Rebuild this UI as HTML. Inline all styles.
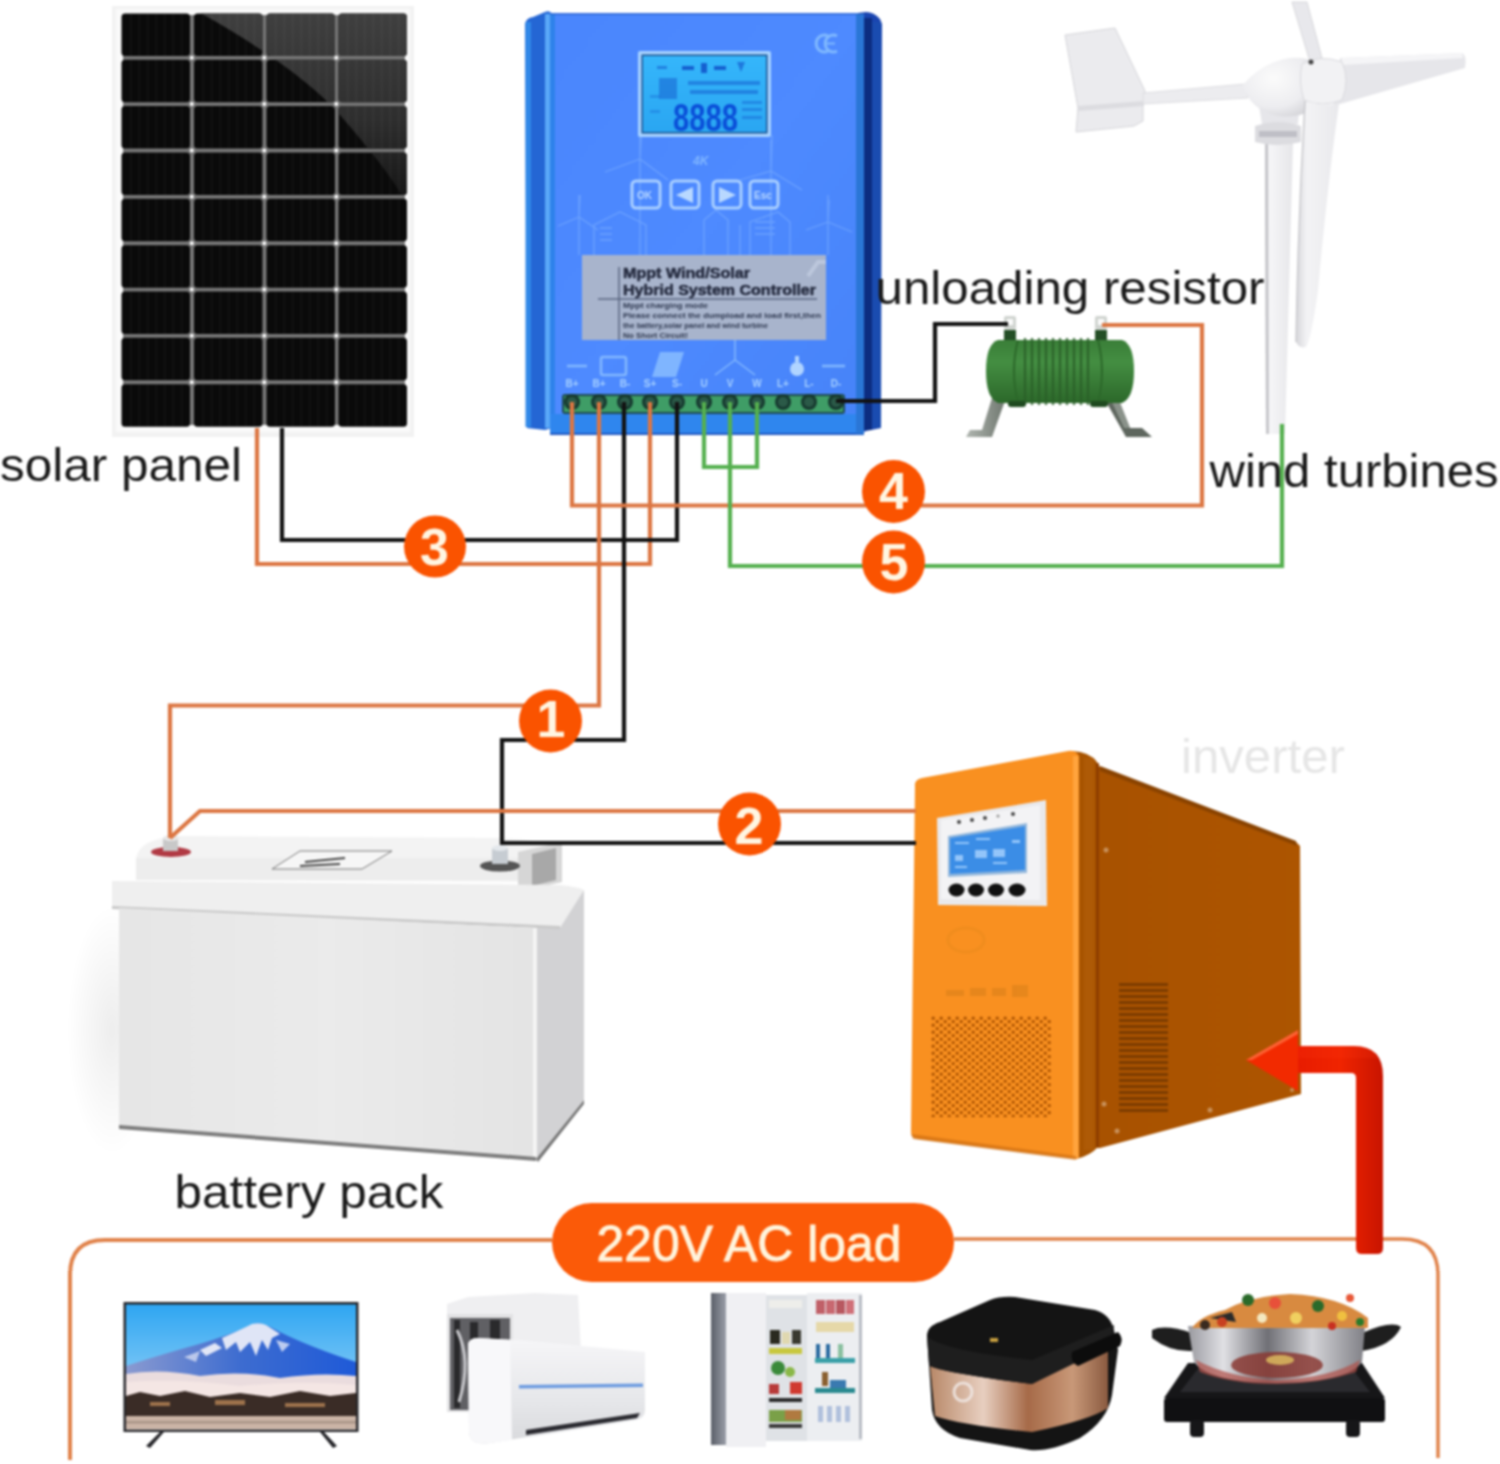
<!DOCTYPE html>
<html><head><meta charset="utf-8">
<style>
html,body{margin:0;padding:0;background:#fff;width:1500px;height:1464px;overflow:hidden}
svg{display:block;font-family:"Liberation Sans",sans-serif}
#wrap{filter:blur(1px);width:1500px;height:1464px}
</style></head>
<body><div id="wrap">
<svg width="1500" height="1464" viewBox="0 0 1500 1464">
<rect width="1500" height="1464" fill="#fff"/>
<!-- solar -->
<g id="solar">
<defs><linearGradient id="gRefl" x1="0" y1="0" x2="0" y2="1"><stop offset="0" stop-color="#404040"/><stop offset="0.55" stop-color="#2e2e2e"/><stop offset="1" stop-color="#121212"/></linearGradient></defs>
<rect x="112" y="6" width="302" height="431" fill="#f2f2f2"/>
<rect x="116" y="9" width="294" height="423" fill="#fafafa"/>
<rect x="123" y="15" width="282" height="410" fill="#777"/>
<clipPath id="cellclip">
<rect x="121.5" y="13.4" width="68.5" height="42.5" rx="3.5"/>
<rect x="194.0" y="13.4" width="68.5" height="42.5" rx="3.5"/>
<rect x="266.5" y="13.4" width="68.5" height="42.5" rx="3.5"/>
<rect x="338.5" y="13.4" width="68.5" height="42.5" rx="3.5"/>
<rect x="121.5" y="59.8" width="68.5" height="42.5" rx="3.5"/>
<rect x="194.0" y="59.8" width="68.5" height="42.5" rx="3.5"/>
<rect x="266.5" y="59.8" width="68.5" height="42.5" rx="3.5"/>
<rect x="338.5" y="59.8" width="68.5" height="42.5" rx="3.5"/>
<rect x="121.5" y="106.1" width="68.5" height="42.5" rx="3.5"/>
<rect x="194.0" y="106.1" width="68.5" height="42.5" rx="3.5"/>
<rect x="266.5" y="106.1" width="68.5" height="42.5" rx="3.5"/>
<rect x="338.5" y="106.1" width="68.5" height="42.5" rx="3.5"/>
<rect x="121.5" y="152.5" width="68.5" height="42.5" rx="3.5"/>
<rect x="194.0" y="152.5" width="68.5" height="42.5" rx="3.5"/>
<rect x="266.5" y="152.5" width="68.5" height="42.5" rx="3.5"/>
<rect x="338.5" y="152.5" width="68.5" height="42.5" rx="3.5"/>
<rect x="121.5" y="198.8" width="68.5" height="42.5" rx="3.5"/>
<rect x="194.0" y="198.8" width="68.5" height="42.5" rx="3.5"/>
<rect x="266.5" y="198.8" width="68.5" height="42.5" rx="3.5"/>
<rect x="338.5" y="198.8" width="68.5" height="42.5" rx="3.5"/>
<rect x="121.5" y="245.2" width="68.5" height="42.5" rx="3.5"/>
<rect x="194.0" y="245.2" width="68.5" height="42.5" rx="3.5"/>
<rect x="266.5" y="245.2" width="68.5" height="42.5" rx="3.5"/>
<rect x="338.5" y="245.2" width="68.5" height="42.5" rx="3.5"/>
<rect x="121.5" y="291.5" width="68.5" height="42.5" rx="3.5"/>
<rect x="194.0" y="291.5" width="68.5" height="42.5" rx="3.5"/>
<rect x="266.5" y="291.5" width="68.5" height="42.5" rx="3.5"/>
<rect x="338.5" y="291.5" width="68.5" height="42.5" rx="3.5"/>
<rect x="121.5" y="337.8" width="68.5" height="42.5" rx="3.5"/>
<rect x="194.0" y="337.8" width="68.5" height="42.5" rx="3.5"/>
<rect x="266.5" y="337.8" width="68.5" height="42.5" rx="3.5"/>
<rect x="338.5" y="337.8" width="68.5" height="42.5" rx="3.5"/>
<rect x="121.5" y="384.2" width="68.5" height="42.5" rx="3.5"/>
<rect x="194.0" y="384.2" width="68.5" height="42.5" rx="3.5"/>
<rect x="266.5" y="384.2" width="68.5" height="42.5" rx="3.5"/>
<rect x="338.5" y="384.2" width="68.5" height="42.5" rx="3.5"/>
</clipPath>
<g clip-path="url(#cellclip)">
<rect x="118" y="10" width="292" height="421" fill="#0a0a0a"/>
<path d="M195 10 C 250 40 310 80 340 115 C 370 150 395 180 410 210 L410 10 Z" fill="url(#gRefl)"/>
<rect x="130.0" y="10" width="1.5" height="421" fill="#ffffff" opacity="0.045"/>
<rect x="138.5" y="10" width="1.5" height="421" fill="#ffffff" opacity="0.045"/>
<rect x="147.0" y="10" width="1.5" height="421" fill="#ffffff" opacity="0.045"/>
<rect x="155.5" y="10" width="1.5" height="421" fill="#ffffff" opacity="0.045"/>
<rect x="164.0" y="10" width="1.5" height="421" fill="#ffffff" opacity="0.045"/>
<rect x="172.5" y="10" width="1.5" height="421" fill="#ffffff" opacity="0.045"/>
<rect x="181.0" y="10" width="1.5" height="421" fill="#ffffff" opacity="0.045"/>
<rect x="202.5" y="10" width="1.5" height="421" fill="#ffffff" opacity="0.045"/>
<rect x="211.0" y="10" width="1.5" height="421" fill="#ffffff" opacity="0.045"/>
<rect x="219.5" y="10" width="1.5" height="421" fill="#ffffff" opacity="0.045"/>
<rect x="228.0" y="10" width="1.5" height="421" fill="#ffffff" opacity="0.045"/>
<rect x="236.5" y="10" width="1.5" height="421" fill="#ffffff" opacity="0.045"/>
<rect x="245.0" y="10" width="1.5" height="421" fill="#ffffff" opacity="0.045"/>
<rect x="253.5" y="10" width="1.5" height="421" fill="#ffffff" opacity="0.045"/>
<rect x="275.0" y="10" width="1.5" height="421" fill="#ffffff" opacity="0.045"/>
<rect x="283.5" y="10" width="1.5" height="421" fill="#ffffff" opacity="0.045"/>
<rect x="292.0" y="10" width="1.5" height="421" fill="#ffffff" opacity="0.045"/>
<rect x="300.5" y="10" width="1.5" height="421" fill="#ffffff" opacity="0.045"/>
<rect x="309.0" y="10" width="1.5" height="421" fill="#ffffff" opacity="0.045"/>
<rect x="317.5" y="10" width="1.5" height="421" fill="#ffffff" opacity="0.045"/>
<rect x="326.0" y="10" width="1.5" height="421" fill="#ffffff" opacity="0.045"/>
<rect x="347.0" y="10" width="1.5" height="421" fill="#ffffff" opacity="0.045"/>
<rect x="355.5" y="10" width="1.5" height="421" fill="#ffffff" opacity="0.045"/>
<rect x="364.0" y="10" width="1.5" height="421" fill="#ffffff" opacity="0.045"/>
<rect x="372.5" y="10" width="1.5" height="421" fill="#ffffff" opacity="0.045"/>
<rect x="381.0" y="10" width="1.5" height="421" fill="#ffffff" opacity="0.045"/>
<rect x="389.5" y="10" width="1.5" height="421" fill="#ffffff" opacity="0.045"/>
<rect x="398.0" y="10" width="1.5" height="421" fill="#ffffff" opacity="0.045"/>
</g>
<circle cx="191.8" cy="57.8" r="2" fill="#fff"/>
<circle cx="264.3" cy="57.8" r="2" fill="#fff"/>
<circle cx="336.3" cy="57.8" r="2" fill="#fff"/>
<circle cx="191.8" cy="104.1" r="2" fill="#fff"/>
<circle cx="264.3" cy="104.1" r="2" fill="#fff"/>
<circle cx="336.3" cy="104.1" r="2" fill="#fff"/>
<circle cx="191.8" cy="150.5" r="2" fill="#fff"/>
<circle cx="264.3" cy="150.5" r="2" fill="#fff"/>
<circle cx="336.3" cy="150.5" r="2" fill="#fff"/>
<circle cx="191.8" cy="196.8" r="2" fill="#fff"/>
<circle cx="264.3" cy="196.8" r="2" fill="#fff"/>
<circle cx="336.3" cy="196.8" r="2" fill="#fff"/>
<circle cx="191.8" cy="243.2" r="2" fill="#fff"/>
<circle cx="264.3" cy="243.2" r="2" fill="#fff"/>
<circle cx="336.3" cy="243.2" r="2" fill="#fff"/>
<circle cx="191.8" cy="289.5" r="2" fill="#fff"/>
<circle cx="264.3" cy="289.5" r="2" fill="#fff"/>
<circle cx="336.3" cy="289.5" r="2" fill="#fff"/>
<circle cx="191.8" cy="335.8" r="2" fill="#fff"/>
<circle cx="264.3" cy="335.8" r="2" fill="#fff"/>
<circle cx="336.3" cy="335.8" r="2" fill="#fff"/>
<circle cx="191.8" cy="382.2" r="2" fill="#fff"/>
<circle cx="264.3" cy="382.2" r="2" fill="#fff"/>
<circle cx="336.3" cy="382.2" r="2" fill="#fff"/>
</g>
<!-- controller -->
<g id="controller">
<defs>
 <linearGradient id="gFace" x1="0" y1="0" x2="1" y2="1">
  <stop offset="0" stop-color="#4a86fd"/><stop offset="0.5" stop-color="#4e8aff"/><stop offset="1" stop-color="#4683f8"/>
 </linearGradient>
 <linearGradient id="gLcd" x1="0" y1="0" x2="0" y2="1">
  <stop offset="0" stop-color="#35b6fb"/><stop offset="1" stop-color="#2aa6f2"/>
 </linearGradient>
</defs>
<!-- left flange -->
<path d="M525 24 Q526 18 533 17 L545 12 Q550 10 552 14 L552 428 L545 430 L527 428 Z" fill="#2466d4"/>
<rect x="525.5" y="22" width="5.5" height="405" fill="#3088e8"/>
<rect x="545" y="14" width="5" height="414" fill="#5aa8f8"/>
<!-- main face -->
<rect x="550" y="13" width="314" height="422" fill="url(#gFace)"/>
<rect x="550" y="14" width="5" height="420" fill="#2e82ea"/>
<rect x="550" y="13" width="314" height="2" fill="#2d63c8" opacity="0.6"/>
<rect x="550" y="414" width="314" height="21" fill="#2f86ee"/>
<rect x="550" y="433" width="314" height="2" fill="#2058c0"/>
<!-- right flange -->
<path d="M858 13 L866 12 Q874 12 880 19 L882 24 L881 428 L866 431 L858 435 Z" fill="#1a45b0"/>
<rect x="864" y="18" width="8" height="412" fill="#0c2c80"/>
<rect x="872" y="22" width="9" height="406" fill="#1a4cb0"/>
<rect x="856" y="14" width="8" height="420" fill="#2a76d6"/>
<!-- CE -->
<g fill="none" stroke="#7fb8ff" stroke-width="3"><path d="M828 36 A8 8.5 0 1 0 828 51"/><path d="M837 36 A8 8.5 0 1 0 837 51"/><path d="M826 43.5 L835 43.5" stroke-width="2"/></g>
<!-- faint line art -->
<g stroke="#8fbfff" stroke-width="1.3" fill="none" opacity="0.45">
 <path d="M640 135 L640 255 M640 159 L605 172 M640 159 L668 180 M640 159 L642 120"/>
 <path d="M771 140 L771 255 M771 171 L740 180 M771 171 L802 190 M771 171 L772 135"/>
 <path d="M579 195 L579 255 M579 217 L558 226 M579 217 L598 230 M579 217 L580 195"/>
 <path d="M828 195 L828 255 M828 222 L806 230 M828 222 L852 232 M828 222 L829 200"/>
 <path d="M594 255 L594 225 L620 212 L646 225 L646 255"/>
 <path d="M704 255 L704 220 L716 210 L728 220 L728 255 M740 255 L740 225"/>
 <path d="M750 255 L750 222 L778 212 L790 222 L790 255"/>
 <path d="M600 228 L612 228 M600 234 L612 234 M600 240 L612 240 M755 222 L775 222 M755 228 L775 228 M755 234 L775 234"/>
</g>
<text x="693" y="165" font-size="12" font-style="italic" font-weight="bold" fill="#8cc0ff" opacity="0.8">4K</text>
<!-- LCD -->
<rect x="638" y="51" width="133" height="86" rx="2" fill="#a6d2ff"/>
<rect x="641.5" y="54.5" width="126" height="79" fill="#17508f"/>
<rect x="643" y="56" width="123" height="76" fill="url(#gLcd)"/>
<g fill="#1560d0">
 <rect x="657" y="66" width="10" height="3" opacity="0.6"/>
 <rect x="682" y="66" width="12" height="4"/>
 <rect x="701" y="63" width="6" height="10"/>
 <rect x="714" y="66" width="12" height="4"/>
 <path d="M737 62 L745 62 L741 72 Z" opacity="0.7"/>
 <rect x="659" y="78" width="18" height="21" opacity="0.55"/>
 <rect x="688" y="81" width="72" height="4" opacity="0.55"/>
 <rect x="690" y="90" width="68" height="4" opacity="0.55"/>
 <rect x="742" y="101" width="20" height="3" opacity="0.45"/>
 <rect x="742" y="108" width="20" height="3" opacity="0.45"/>
 <rect x="742" y="116" width="20" height="3" opacity="0.45"/>
 <rect x="650" y="95" width="10" height="3" opacity="0.35"/>
 <rect x="650" y="110" width="10" height="3" opacity="0.35"/>
</g>
<text x="673" y="131" font-size="38" font-family="Liberation Sans Narrow, Liberation Sans" font-weight="bold" fill="#0a4fd8" textLength="65" lengthAdjust="spacingAndGlyphs">8888</text>
<!-- buttons -->
<g fill="none" stroke="#a9cfff" stroke-width="3">
 <rect x="632" y="181" width="28" height="27" rx="4"/>
 <rect x="671" y="181" width="28" height="27" rx="4"/>
 <rect x="713" y="181" width="28" height="27" rx="4"/>
 <rect x="750" y="181" width="28" height="27" rx="4"/>
</g>
<g fill="#b8d8ff">
 <text x="637" y="199" font-size="10" font-weight="bold">OK</text>
 <path d="M676 195 L693 187 L693 203 Z"/>
 <path d="M736 195 L719 187 L719 203 Z"/>
 <text x="754" y="199" font-size="10" font-weight="bold">Esc</text>
</g>
<!-- grey label -->
<rect x="582" y="255" width="244" height="85" fill="#a8b4cc"/>
<path d="M808 276 L818 262 L826 262" stroke="#c4cee2" stroke-width="4" fill="none" opacity="0.7"/>
<line x1="619" y1="267" x2="619" y2="340" stroke="#5a6680" stroke-width="1.5"/>
<line x1="598" y1="299" x2="817" y2="299" stroke="#5a6680" stroke-width="1.5"/>
<g fill="#262c40" font-weight="bold" stroke="#262c40" stroke-width="0.5">
 <text x="623" y="278" font-size="14" textLength="127" lengthAdjust="spacingAndGlyphs">Mppt Wind/Solar</text>
 <text x="623" y="295" font-size="15" textLength="193" lengthAdjust="spacingAndGlyphs">Hybrid System Controller</text>
</g>
<g fill="#2e3850" font-size="8" font-weight="bold">
 <text x="623" y="308" textLength="85" lengthAdjust="spacingAndGlyphs">Mppt charging mode</text>
 <text x="623" y="318" textLength="198" lengthAdjust="spacingAndGlyphs">Please connect the dumpload and load first,then</text>
 <text x="623" y="328" textLength="145" lengthAdjust="spacingAndGlyphs">the battery,solar panel and wind turbine</text>
 <text x="623" y="338" textLength="65" lengthAdjust="spacingAndGlyphs">No Short Circuit!</text>
</g>
<!-- icons row -->
<g fill="none" stroke="#8cc0ff" stroke-width="2.5" opacity="0.85">
 <line x1="567" y1="366" x2="587" y2="366"/>
 <rect x="601" y="357" width="25" height="18" rx="2"/>
 <line x1="822" y1="366" x2="845" y2="366"/>
 <path d="M735 360 L735 340 M735 360 L715 375 M735 360 L755 375" stroke-width="1.5"/>
</g>
<path d="M660 352 L684 352 L676 377 L652 377 Z" fill="#8cc0ff" opacity="0.8"/>
<circle cx="797" cy="369" r="7" fill="#b0d4ff"/>
<rect x="795" y="356" width="4" height="6" fill="#b0d4ff"/>
<g fill="#a6d0ff" font-size="10" font-weight="bold">

<text x="572" y="387" text-anchor="middle">B+</text>
<text x="599" y="387" text-anchor="middle">B+</text>
<text x="625" y="387" text-anchor="middle">B-</text>
<text x="650" y="387" text-anchor="middle">S+</text>
<text x="677" y="387" text-anchor="middle">S-</text>
<text x="704" y="387" text-anchor="middle">U</text>
<text x="730" y="387" text-anchor="middle">V</text>
<text x="757" y="387" text-anchor="middle">W</text>
<text x="783" y="387" text-anchor="middle">L+</text>
<text x="809" y="387" text-anchor="middle">L-</text>
<text x="836" y="387" text-anchor="middle">D-</text>
</g>
<rect x="562" y="394" width="283" height="20" rx="3" fill="#1f4a55"/>
<rect x="564" y="396" width="279" height="16" fill="#3f9d66"/>
<circle cx="572" cy="402" r="8" fill="#173a30"/>
<circle cx="572" cy="402" r="5" fill="#2b5a48"/>
<circle cx="599" cy="402" r="8" fill="#173a30"/>
<circle cx="599" cy="402" r="5" fill="#2b5a48"/>
<circle cx="625" cy="402" r="8" fill="#173a30"/>
<circle cx="625" cy="402" r="5" fill="#2b5a48"/>
<circle cx="650" cy="402" r="8" fill="#173a30"/>
<circle cx="650" cy="402" r="5" fill="#2b5a48"/>
<circle cx="677" cy="402" r="8" fill="#173a30"/>
<circle cx="677" cy="402" r="5" fill="#2b5a48"/>
<circle cx="704" cy="402" r="8" fill="#173a30"/>
<circle cx="704" cy="402" r="5" fill="#2b5a48"/>
<circle cx="730" cy="402" r="8" fill="#173a30"/>
<circle cx="730" cy="402" r="5" fill="#2b5a48"/>
<circle cx="757" cy="402" r="8" fill="#173a30"/>
<circle cx="757" cy="402" r="5" fill="#2b5a48"/>
<circle cx="783" cy="402" r="8" fill="#173a30"/>
<circle cx="783" cy="402" r="5" fill="#2b5a48"/>
<circle cx="809" cy="402" r="8" fill="#173a30"/>
<circle cx="809" cy="402" r="5" fill="#2b5a48"/>
<circle cx="836" cy="402" r="8" fill="#173a30"/>
<circle cx="836" cy="402" r="5" fill="#2b5a48"/>
</g>
<!-- turbine -->
<g id="turbine">
 <defs>
  <linearGradient id="gTower" x1="0" x2="1" y1="0" y2="0"><stop offset="0" stop-color="#d0d0d4"/><stop offset="0.15" stop-color="#f6f6f8"/><stop offset="1" stop-color="#e6e6e9"/></linearGradient>
  <linearGradient id="gBlade" x1="0" y1="0" x2="1" y2="0">
   <stop offset="0" stop-color="#d6d6da"/><stop offset="0.25" stop-color="#f3f3f5"/><stop offset="1" stop-color="#e9e9ec"/>
  </linearGradient>
  <radialGradient id="gNac" cx="0.45" cy="0.35" r="0.7">
   <stop offset="0" stop-color="#fbfbfb"/><stop offset="0.7" stop-color="#ededf0"/><stop offset="1" stop-color="#d8d8dc"/>
  </radialGradient>
 </defs>
 <!-- tower -->
 <path d="M1265 143 L1293 143 L1285 434 L1266 434 Z" fill="url(#gTower)"/>
 <path d="M1265 143 L1268 143 L1269 434 L1266 434 Z" fill="#c6c6ca"/>
 <!-- tail fin -->
 <path d="M1065 35 L1115 28 L1145 91 L1143 105 L1143 121 L1134 126 L1076 132 L1078 108 Z" fill="#ebebee" stroke="#d6d6da" stroke-width="1"/>
 <path d="M1078 106 L1144 101 L1144 106 L1078 111 Z" fill="#dcdce0"/>
 <!-- boom -->
 <path d="M1143 93 L1245 84 L1248 98 L1143 104 Z" fill="#ececef" stroke="#d8d8dc" stroke-width="0.8"/>
 <!-- yaw neck -->
 <path d="M1258 100 L1300 100 L1298 124 L1262 124 Z" fill="#e6e6ea"/>
 <!-- yaw ring -->
 <path d="M1255 126 Q1278 118 1301 126 L1301 142 Q1278 148 1255 142 Z" fill="#dcdce0"/>
 <path d="M1259 131 L1297 131 L1297 137 L1259 137 Z" fill="#a8a8b0" opacity="0.55"/>
 <!-- nacelle -->
 <path d="M1242 86 Q1262 62 1290 58 Q1306 57 1312 62 L1312 110 Q1300 118 1278 116 Q1260 112 1250 100 Z" fill="url(#gNac)"/>
 <!-- top blade -->
 <path d="M1292 2 L1307 2 L1322 58 L1310 62 Z" fill="#e8e8ec" stroke="#d2d2d6" stroke-width="0.8"/>
 <!-- right blade -->
 <path d="M1340 58 L1462 53 Q1467 55 1465 68 L1333 106 Z" fill="#e6e6ea"/>
 <path d="M1342 58 L1462 53 L1463 58 L1342 65 Z" fill="#f5f5f7"/>
 <!-- hub -->
 <path d="M1302 64 Q1320 54 1342 62 Q1350 80 1342 100 Q1322 108 1304 100 Q1298 82 1302 64 Z" fill="#f2f2f4" stroke="#dadade" stroke-width="1"/>
 <circle cx="1311" cy="62" r="2.5" fill="#444"/>
 <!-- down blade -->
 <path d="M1305 101 Q1322 106 1339 104 Q1328 180 1318 290 Q1311 340 1306 347 Q1299 349 1296 342 Q1298 250 1302 160 Z" fill="url(#gBlade)"/>
 <path d="M1305 101 Q1298 220 1296 342" fill="none" stroke="#c8c8cc" stroke-width="1.4"/>
</g>

<!-- resistor -->
<g id="resistor">
 <defs>
  <linearGradient id="gRes" x1="0" y1="0" x2="0" y2="1">
   <stop offset="0" stop-color="#3a7e38"/><stop offset="0.35" stop-color="#448e42"/><stop offset="1" stop-color="#2c682a"/>
  </linearGradient>
  <linearGradient id="gFoot" x1="0" y1="0" x2="1" y2="0">
   <stop offset="0" stop-color="#b0b6b0"/><stop offset="1" stop-color="#6e766e"/>
  </linearGradient>
 </defs>
 <!-- feet -->
 <path d="M992 398 L1006 398 L992 437 L966 437 L970 430 L982 430 Z" fill="url(#gFoot)"/>
 <path d="M1104 398 L1118 398 L1130 428 L1142 428 L1152 437 L1126 437 Z" fill="#5e665e"/>
 <path d="M1110 398 L1118 398 L1130 428 L1124 428 Z" fill="#8a928a"/>
 <!-- terminals -->
 <rect x="1004" y="330" width="12" height="16" fill="#244e26"/>
 <rect x="1004" y="316" width="12" height="14" rx="2" fill="#d0d4d0"/>
 <rect x="1007" y="319" width="6" height="6" fill="#fafafa"/>
 <rect x="1095" y="330" width="12" height="16" fill="#244e26"/>
 <rect x="1095" y="316" width="12" height="14" rx="2" fill="#d0d4d0"/>
 <rect x="1098" y="319" width="6" height="6" fill="#fafafa"/>
 <!-- body -->
 <path d="M998 340 L1122 340 Q1134 344 1134 371 Q1134 398 1122 403 L998 403 Q986 398 986 371 Q986 344 998 340 Z" fill="url(#gRes)"/>
 <path d="M1018 340 Q1010 371 1018 403" fill="none" stroke="#2c682a" stroke-width="2"/>
 <path d="M1098 340 Q1106 371 1098 403" fill="none" stroke="#2c682a" stroke-width="2"/>
 <g stroke="#2a5f28" stroke-width="2.2" opacity="0.85">
  <line x1="1025" y1="338" x2="1025" y2="405"/><line x1="1032" y1="338" x2="1032" y2="405"/>
  <line x1="1039" y1="338" x2="1039" y2="405"/><line x1="1046" y1="338" x2="1046" y2="405"/>
  <line x1="1053" y1="338" x2="1053" y2="405"/><line x1="1060" y1="338" x2="1060" y2="405"/>
  <line x1="1067" y1="338" x2="1067" y2="405"/><line x1="1074" y1="338" x2="1074" y2="405"/>
  <line x1="1081" y1="338" x2="1081" y2="405"/><line x1="1088" y1="338" x2="1088" y2="405"/>
 </g>
 <rect x="1008" y="401" width="18" height="6" rx="3" fill="#1f4a20"/>
 <rect x="1090" y="401" width="18" height="6" rx="3" fill="#1f4a20"/>
</g>

<!-- battery -->
<g id="battery">
 <defs>
  <radialGradient id="gBatShadow" cx="0.5" cy="0.5" r="0.5">
   <stop offset="0" stop-color="#000" stop-opacity="0.07"/><stop offset="1" stop-color="#000" stop-opacity="0"/>
  </radialGradient>
  <linearGradient id="gBatFront" x1="0" y1="0" x2="1" y2="0">
   <stop offset="0" stop-color="#e6e6e6"/><stop offset="0.5" stop-color="#ebebeb"/><stop offset="1" stop-color="#e4e4e4"/>
  </linearGradient>
 </defs>
 <ellipse cx="112" cy="1030" rx="45" ry="125" fill="url(#gBatShadow)"/>
 <!-- top plate -->
 <path d="M136 858 Q 140 838 180 836 L 500 838 Q 560 842 562 850 L 562 882 L 136 880 Z" fill="#f3f3f3"/>
 <rect x="136" y="858" width="384" height="22" fill="#ededed"/>
 <!-- handle notch -->
 <path d="M518 852 L 562 842 L 562 882 L 518 892 Z" fill="#d6d6d6"/>
 <path d="M532 854 L 556 848 L 556 880 L 532 886 Z" fill="#a8a8a8"/>
 <!-- side face -->
 <path d="M536 928 L 584 890 L 584 1100 L 536 1159 Z" fill="#d2d2d4"/>
 <path d="M536 1159 L 584 1100 L 584 1104 L 538 1162 Z" fill="#777"/>
 <!-- lid band -->
 <path d="M112 881 L 560 885 Q 578 887 584 890 L 560 928 L 112 907 Z" fill="#efefef"/>
 <path d="M112 906 L 560 926 L 560 929 L 112 909 Z" fill="#c9c9c9"/>
 <!-- front face -->
 <path d="M119 908 L 536 928 L 536 1159 L 119 1127 Z" fill="url(#gBatFront)"/>
<rect x="533" y="928" width="4" height="230" fill="#f4f4f4"/>
 <path d="M119 1125 L 536 1157 L 536 1161 L 119 1129 Z" fill="#7d7d7d"/>
 <!-- label on top -->
 <path d="M272 869 L 300 851 L 392 851 L 362 869 Z" fill="#f6f6f6" stroke="#777" stroke-width="1"/>
 <path d="M305 862 L 345 858 M300 866 L 340 864" stroke="#444" stroke-width="2"/>
 <!-- terminals -->
 <ellipse cx="171" cy="852" rx="20" ry="5" fill="#b13a44"/>
 <rect x="163" y="838" width="15" height="13" fill="#c8c8c8"/>
 <ellipse cx="171" cy="838" rx="8" ry="3" fill="#e8e8e8"/>
 <ellipse cx="500" cy="866" rx="20" ry="5.5" fill="#555"/>
 <rect x="492" y="848" width="16" height="16" fill="#c6ccd2"/>
 <ellipse cx="500" cy="848" rx="8" ry="3" fill="#e4e8ec"/>
</g>

<!-- inverter -->
<g id="inverter">
 <defs>
  <pattern id="pDots" x="931" y="1016" width="8" height="7" patternUnits="userSpaceOnUse">
   <circle cx="2.2" cy="2.2" r="1.6" fill="#a85000"/>
   <circle cx="6.2" cy="5.7" r="1.6" fill="#a85000"/>
  </pattern>
  <pattern id="pVent" x="1119" y="983" width="49" height="6" patternUnits="userSpaceOnUse">
   <rect x="0" y="0" width="49" height="3" fill="#763800" opacity="0.85"/>
  </pattern>
  <linearGradient id="gSide" x1="0" y1="0" x2="1" y2="0">
   <stop offset="0" stop-color="#a85200"/><stop offset="1" stop-color="#ad5500"/>
  </linearGradient>
 </defs>
 <!-- side face -->
 <path d="M1097 763 L1100 767 L1296 842 L1300 846 L1301 1094 L1100 1148 L1097 1148 Z" fill="url(#gSide)"/>
 <path d="M1100 766 L1296 841 L1297 846 L1100 771 Z" fill="#8a4300"/>
 <!-- bevel strip -->
 <path d="M1072 751 Q1090 752 1097 762 L1099 1146 Q1090 1156 1076 1159 Z" fill="#a85400"/>
 <rect x="1084" y="758" width="10" height="392" fill="#b05c08" opacity="0.7"/>
 <rect x="1096" y="763" width="3" height="384" fill="#8e3e00"/>
 <!-- front face -->
 <path d="M915 786 Q914 780 922 778 L1068 751 Q1076 750 1079 756 L1079 1158 L1076 1159 L918 1139 Q911 1138 911 1132 Z" fill="#f99020"/>
 <rect x="1073" y="756" width="5.5" height="402" fill="#ffa640" opacity="0.9"/>
 <path d="M911 1134 L1076 1156 L1076 1160 L913 1139 Z" fill="#c86a10" opacity="0.6"/>
 <!-- silver panel -->
 <path d="M937 818 L1046 800 L1047 906 L938 905 Z" fill="#e9e9ec"/>
 <path d="M941 820 L1040 805 L1040 900 L941 899 Z" fill="#f3f3f5"/>
 <g fill="#444">
  <circle cx="959" cy="822" r="2"/><circle cx="972" cy="820" r="2"/><circle cx="985" cy="818" r="2"/><circle cx="998" cy="816" r="1.6" fill="#999"/><circle cx="1013" cy="814" r="2"/>
 </g>
 <path d="M948 836 L1027 823 L1027 873 L948 877 Z" fill="#94b8dc"/>
 <path d="M950 838 L1025 826 L1025 870 L950 874 Z" fill="#3b8de6"/>
 <g fill="#a9d4ff" opacity="0.8">
  <rect x="955" y="842" width="14" height="2"/><rect x="976" y="838" width="14" height="2"/>
  <rect x="975" y="850" width="12" height="8"/><rect x="993" y="849" width="12" height="8"/>
  <rect x="955" y="855" width="8" height="6"/><rect x="1012" y="840" width="8" height="3"/>
  <rect x="955" y="866" width="12" height="2"/><rect x="993" y="862" width="14" height="2"/>
 </g>
 <g fill="#111">
  <ellipse cx="956.5" cy="890" rx="8" ry="6.5"/><ellipse cx="976" cy="890" rx="8" ry="6.5"/>
  <ellipse cx="996" cy="890" rx="8" ry="6.5"/><ellipse cx="1017" cy="890" rx="8.5" ry="6.5"/>
 </g>
 <!-- faint logo -->
 <ellipse cx="966" cy="940" rx="18" ry="12" fill="none" stroke="#e88a1c" stroke-width="3" opacity="0.5"/>
 <g fill="#e4861c" opacity="0.9">
  <rect x="946" y="990" width="18" height="6"/><rect x="970" y="988" width="16" height="8"/><rect x="992" y="988" width="14" height="8"/><rect x="1012" y="985" width="16" height="12"/>
 </g>
 <!-- grille -->
 <rect x="931" y="1016" width="120" height="101" fill="url(#pDots)"/>
 <!-- side vent -->
 <rect x="1119" y="983" width="49" height="129" fill="url(#pVent)"/>
 <!-- screws -->
 <g fill="#d0a070" opacity="0.8">
  <circle cx="1106" cy="850" r="2.5"/><circle cx="1104" cy="1104" r="2.5"/><circle cx="1117" cy="1131" r="2.5"/><circle cx="1210" cy="1110" r="2.5"/><circle cx="1292" cy="1090" r="2"/>
 </g>
</g>
<!-- labels -->
<g fill="#1a1a1a" font-size="46">
  <text x="0" y="481" textLength="242" lengthAdjust="spacingAndGlyphs">solar panel</text>
  <text x="875.5" y="304" textLength="389" lengthAdjust="spacingAndGlyphs">unloading resistor</text>
  <text x="1209.5" y="487" textLength="289" lengthAdjust="spacingAndGlyphs">wind turbines</text>
  <text x="174.5" y="1208" textLength="269" lengthAdjust="spacingAndGlyphs">battery pack</text>
  <text x="1181" y="773" fill="#e6e6e6" font-size="48" textLength="164" lengthAdjust="spacingAndGlyphs">inverter</text>
</g>

<!-- wires -->
<g id="wires" fill="none" stroke-width="4.2" stroke-linejoin="miter">
 <!-- solar to controller (3) -->
 <polyline points="257,428 257,564 650,564 650,402" stroke="#dc7642"/>
 <polyline points="282,428 282,540 677,540 677,402" stroke="#121212"/>
 <!-- battery (1) -->
 <polyline points="599,402 599,705.5 170,705.5 170,838" stroke="#dc7642"/>
 <polyline points="624,402 624,740 502,740 502,845" stroke="#121212"/>
 <!-- inverter (2) -->
 <polyline points="170,838 200,811 916,811" stroke="#dc7642"/>
 <polyline points="502,843 916,843" stroke="#121212"/>
 <!-- resistor (4) -->
 <polyline points="572,402 572,505.5 1202,505.5 1202,325 1102,325" stroke="#dc7642"/>
 <polyline points="836,401 935,401 935,324 1008,324" stroke="#121212"/>
 <!-- turbine (5) -->
 <polyline points="704,402 704,467 757,467 757,402" stroke="#55b04f"/>
 <polyline points="730,402 730,566 1282,566 1282,424" stroke="#55b04f"/>
</g>

<!-- load -->
<g id="load">
 <path d="M70 1460 L70 1275 Q70 1240 105 1240 L552 1240" fill="none" stroke="#e0824a" stroke-width="4"/>
 <path d="M954 1239 L1402 1239 Q1438 1239 1438 1275 L1438 1458" fill="none" stroke="#e0824a" stroke-width="3.5"/>
 <rect x="552" y="1203" width="402" height="79" rx="39.5" fill="#fb5a08"/>
 <text x="596.5" y="1261" font-size="50" fill="#fff4dc" stroke="#fff4dc" stroke-width="0.9" textLength="305" lengthAdjust="spacingAndGlyphs">220V AC load</text>
</g>

<!-- arrow -->
<g id="arrow">
 <defs>
  <linearGradient id="gArrowV" x1="0" y1="0" x2="1" y2="0">
   <stop offset="0" stop-color="#e81c00"/><stop offset="0.5" stop-color="#f02400"/><stop offset="1" stop-color="#c81400"/>
  </linearGradient>
 </defs>
 <path d="M1298 1046 L1354 1046 Q1383 1046 1383 1076 L1383 1248 Q1383 1254 1377 1254 L1362 1254 Q1356 1254 1356 1248 L1356 1078 Q1356 1073 1351 1073 L1298 1073 Z" fill="url(#gArrowV)"/>
 <path d="M1298 1046 L1354 1046 Q1372 1046 1378 1058 L1298 1058 Z" fill="#ff3a10" opacity="0.18"/>
 <path d="M1246 1060 L1298 1030 L1298 1091 Z" fill="#f22a00"/>
 <path d="M1246 1060 L1298 1030 L1298 1034 L1252 1060 Z" fill="#ff7040" opacity="0.8"/>
</g>

<!-- appliances -->
<g id="appliances">
 <defs>
  <linearGradient id="gSky" x1="0" y1="0" x2="0" y2="1">
   <stop offset="0" stop-color="#2fa6f2"/><stop offset="0.6" stop-color="#7ec8f6"/><stop offset="1" stop-color="#c8e6fa"/>
  </linearGradient>
  <linearGradient id="gMtn" x1="0" y1="0" x2="1" y2="0">
   <stop offset="0" stop-color="#8a9ad0"/><stop offset="0.5" stop-color="#3d6cd0"/><stop offset="1" stop-color="#1f5ad8"/>
  </linearGradient>
  <linearGradient id="gAC" x1="0" y1="0" x2="0" y2="1">
   <stop offset="0" stop-color="#f6f6f8"/><stop offset="0.6" stop-color="#e6e7ea"/><stop offset="1" stop-color="#d8d9dc"/>
  </linearGradient>
  <linearGradient id="gCopper" x1="0" y1="0" x2="1" y2="0">
   <stop offset="0" stop-color="#b88868"/><stop offset="0.3" stop-color="#e8cfc0"/><stop offset="0.55" stop-color="#a66a48"/><stop offset="0.8" stop-color="#c89878"/><stop offset="1" stop-color="#8a5a40"/>
  </linearGradient>
  <linearGradient id="gPot" x1="0" y1="0" x2="1" y2="0">
   <stop offset="0" stop-color="#8a8a90"/><stop offset="0.25" stop-color="#d8d8dc"/><stop offset="0.5" stop-color="#5a5a60"/><stop offset="0.75" stop-color="#d0d0d4"/><stop offset="1" stop-color="#7a7a80"/>
  </linearGradient>
 </defs>
 <!-- TV -->
 <rect x="123.5" y="1302" width="235" height="130" fill="#26262a"/>
 <rect x="126" y="1304.5" width="230" height="125" fill="url(#gSky)"/>
 <path d="M126 1366 Q150 1358 185 1348 Q215 1340 240 1330 Q252 1324 258 1323 Q266 1324 280 1332 Q310 1347 356 1362 L356 1392 L126 1392 Z" fill="url(#gMtn)"/>
 <g fill="#eef0fa" opacity="0.92">
  <path d="M222 1338 Q240 1330 252 1324 Q260 1322 266 1325 Q274 1330 280 1334 L272 1338 L268 1350 L262 1340 L256 1356 L250 1342 L240 1352 L236 1342 L226 1350 Z"/>
  <path d="M200 1350 L215 1343 L222 1348 L206 1356 Z"/>
  <path d="M184 1357 L200 1351 L196 1362 Z" opacity="0.7"/>
  <path d="M276 1340 L290 1344 L282 1352 Z" opacity="0.8"/>
 </g>
 <path d="M126 1374 Q160 1368 200 1376 Q240 1370 280 1378 Q320 1372 356 1376 L356 1397 L126 1397 Z" fill="#eadcde"/>
 <path d="M126 1382 Q180 1378 240 1386 Q300 1380 356 1385 L356 1397 L126 1397 Z" fill="#f4e6e4"/>
 <path d="M126 1396 L140 1392 L160 1396 L185 1391 L210 1397 L240 1393 L270 1397 L300 1391 L330 1396 L356 1393 L356 1416 L126 1416 Z" fill="#3a2c26"/>
 <g fill="#c8905c" opacity="0.7"><rect x="150" y="1402" width="20" height="4"/><rect x="215" y="1400" width="30" height="5"/><rect x="285" y="1403" width="40" height="4"/></g>
 <rect x="126" y="1416" width="230" height="13.5" fill="#cbb4a6"/>
 <rect x="126" y="1421" width="230" height="2.5" fill="#8a766a" opacity="0.5"/>
 <path d="M160 1432 L164 1432 L150 1448 L146 1446 Z" fill="#26262a"/>
 <path d="M320 1432 L324 1432 L337 1446 L333 1448 Z" fill="#26262a"/>
 <!-- AC -->
 <path d="M447 1304 L468 1297 L535 1293 L578 1295 L581 1352 L447 1352 Z" fill="#efeff1"/>
 <rect x="447" y="1314" width="66" height="98" fill="#e2e2e4"/>
 <rect x="450" y="1318" width="60" height="92" fill="#606064"/>
 <g fill="#2a2a2c"><rect x="454" y="1320" width="6" height="88"/><rect x="470" y="1322" width="8" height="86"/><rect x="490" y="1320" width="10" height="40"/></g>
 <path d="M457 1330 Q472 1360 459 1402" stroke="#c8c8cc" stroke-width="3" fill="none"/>
 <rect x="470" y="1400" width="40" height="8" fill="#1a1a1c"/>
 <path d="M468 1346 Q468 1338 478 1338 L520 1340 L645 1352 L645 1410 Q645 1418 635 1420 L490 1443 Q470 1446 469 1432 Z" fill="url(#gAC)"/>
 <path d="M468 1346 Q468 1338 478 1338 L510 1340 L512 1440 L490 1443 Q470 1446 469 1432 Z" fill="#f8f8fa"/>
 <path d="M519 1385 L643 1383.5 L643 1387 L519 1388.5 Z" fill="#6e9ce0"/>
 <path d="M526 1430 L640 1413 L637 1418 L526 1435 Z" fill="#2a2a30"/>
 <!-- fridge -->
 <defs>
  <linearGradient id="gFrSide" x1="0" y1="0" x2="1" y2="0"><stop offset="0" stop-color="#5a5e68"/><stop offset="1" stop-color="#9a9ea8"/></linearGradient>
  <linearGradient id="gCook" x1="0" y1="0" x2="1" y2="0"><stop offset="0" stop-color="#9a9aa0"/><stop offset="0.2" stop-color="#e0e0e4"/><stop offset="0.45" stop-color="#707076"/><stop offset="0.7" stop-color="#d4d4d8"/><stop offset="1" stop-color="#808086"/></linearGradient>
 </defs>
 <rect x="711" y="1293" width="15" height="152" fill="url(#gFrSide)"/>
 <rect x="726" y="1293" width="40" height="154" fill="#f0f0f3"/>
 <rect x="766" y="1295" width="41" height="146" fill="#dfe2e6"/>
 <g>
  <rect x="769" y="1300" width="33" height="8" fill="#eeeeea"/>
  <rect x="770" y="1330" width="10" height="14" fill="#2a2a20"/><rect x="782" y="1332" width="8" height="12" fill="#e0d8b0"/><rect x="792" y="1330" width="9" height="14" fill="#3a3a30"/>
  <rect x="769" y="1348" width="33" height="6" fill="#c8c840"/>
  <circle cx="778" cy="1368" r="7" fill="#3a8a3a"/><circle cx="790" cy="1372" r="5" fill="#8ab848"/>
  <rect x="769" y="1384" width="10" height="10" fill="#b83a3a"/><rect x="790" y="1382" width="12" height="12" fill="#d03a30"/>
  <rect x="769" y="1398" width="33" height="4" fill="#2a2a2a"/>
  <rect x="769" y="1410" width="33" height="12" fill="#7aa048"/><rect x="785" y="1410" width="16" height="10" fill="#b07a40"/>
  <rect x="769" y="1424" width="33" height="4" fill="#3a3a3a"/>
 </g>
 <rect x="807" y="1293" width="55" height="148" fill="#eceef1"/>
 <rect x="859" y="1295" width="3" height="144" fill="#b8bcc4"/>
 <g>
  <rect x="816" y="1300" width="9" height="14" fill="#c06068"/><rect x="826" y="1300" width="9" height="14" fill="#c86870"/><rect x="836" y="1300" width="9" height="14" fill="#b85860"/><rect x="846" y="1300" width="8" height="14" fill="#d07078"/>
  <rect x="816" y="1322" width="38" height="10" fill="#e6d8a8"/>
  <rect x="816" y="1344" width="4" height="14" fill="#2a6aa0"/><rect x="826" y="1344" width="4" height="14" fill="#2a6aa0"/><rect x="838" y="1344" width="5" height="14" fill="#8ac0a0"/>
  <rect x="815" y="1358" width="40" height="5" fill="#3aa0a8"/>
  <rect x="822" y="1372" width="6" height="14" fill="#8a6030"/><rect x="830" y="1380" width="16" height="8" fill="#3a7ab0"/>
  <rect x="815" y="1388" width="40" height="5" fill="#2a8a90"/>
  <rect x="818" y="1406" width="5" height="16" fill="#b0c0dc"/><rect x="827" y="1406" width="5" height="16" fill="#b0c0dc"/><rect x="836" y="1406" width="5" height="16" fill="#b0c0dc"/><rect x="845" y="1406" width="5" height="16" fill="#b0c0dc"/>
 </g>
 <!-- rice cooker -->
 <path d="M927 1336 Q927 1326 940 1322 L990 1300 Q1000 1296 1015 1297 L1095 1310 Q1110 1314 1114 1330 L1118 1350 L1112 1395 Q1108 1420 1080 1438 Q1050 1452 1030 1450 L960 1438 Q935 1430 932 1410 Z" fill="#141414"/>
 <path d="M930 1366 Q940 1372 1032 1384 L1108 1342 L1108 1408 Q1090 1420 1032 1432 Q960 1425 935 1416 Z" fill="url(#gCopper)"/>
 <path d="M927 1336 Q940 1350 1032 1360 L1114 1325 L1112 1345 L1032 1384 Q935 1372 929 1364 Z" fill="#1e1e1e"/>
 <path d="M1072 1352 L1118 1332 Q1124 1338 1120 1346 L1078 1366 Q1070 1362 1072 1352 Z" fill="#0c0c0c"/>
 <circle cx="963" cy="1392" r="9" fill="none" stroke="#f0e8e4" stroke-width="3" opacity="0.85"/>
 <rect x="990" y="1338" width="8" height="4" fill="#c8a040"/>
 <!-- induction cooker + pot -->
 <path d="M1188 1363 L1362 1363 L1385 1398 L1164 1398 Z" fill="#161618"/>
 <path d="M1200 1366 L1350 1366 L1370 1392 L1180 1392 Z" fill="#2a2a2e"/>
 <rect x="1164" y="1398" width="221" height="24" rx="3" fill="#101012"/>
 <rect x="1190" y="1420" width="14" height="17" rx="4" fill="#161618"/>
 <rect x="1346" y="1420" width="14" height="17" rx="4" fill="#161618"/>
 <path d="M1152 1330 Q1165 1324 1192 1333 L1192 1351 Q1170 1352 1152 1338 Z" fill="#1e1e1e"/>
 <path d="M1362 1333 Q1392 1320 1401 1327 Q1392 1346 1362 1351 Z" fill="#1e1e1e"/>
 <path d="M1188 1326 L1365 1326 L1362 1362 Q1348 1382 1277 1383 Q1208 1382 1194 1362 Z" fill="url(#gCook)"/>
 <path d="M1196 1360 Q1230 1378 1277 1380 Q1330 1378 1360 1360 L1356 1372 Q1320 1384 1277 1384 Q1230 1384 1200 1372 Z" fill="#b05048" opacity="0.7"/>
 <ellipse cx="1277" cy="1365" rx="46" ry="13" fill="#8a3a34" opacity="0.85"/>
 <ellipse cx="1280" cy="1360" rx="14" ry="5" fill="#e0c060" opacity="0.8"/>
 <path d="M1192 1328 Q1200 1316 1225 1310 Q1250 1296 1290 1294 Q1340 1296 1368 1318 L1368 1328 Z" fill="#d88a40"/>
 <g>
  <path d="M1210 1318 L1232 1312 L1236 1322 Z" fill="#2a2a2a"/><circle cx="1248" cy="1300" r="6" fill="#2a6a2a"/><circle cx="1318" cy="1306" r="6" fill="#2a6a2a"/>
  <circle cx="1275" cy="1303" r="6" fill="#e8503a"/><circle cx="1342" cy="1316" r="5" fill="#f0c040"/>
  <circle cx="1222" cy="1322" r="5" fill="#c84020"/><circle cx="1296" cy="1318" r="6" fill="#f0d060"/>
  <circle cx="1350" cy="1298" r="4" fill="#e85838"/><circle cx="1262" cy="1318" r="5" fill="#f4e8c0"/><circle cx="1332" cy="1326" r="4" fill="#c83020"/>
  <circle cx="1205" cy="1325" r="5" fill="#3a2a20"/><circle cx="1360" cy="1322" r="4" fill="#2a7a2a"/>
 </g>
</g>

<!-- circles -->
<g id="circles">
 <g fill="#fa5300">
  <circle cx="435" cy="546.5" r="31"/>
  <circle cx="550.5" cy="721" r="31.5"/>
  <circle cx="749.5" cy="824" r="31.5"/>
  <circle cx="893.5" cy="491.5" r="31.5"/>
  <circle cx="893.5" cy="562" r="31.5"/>
 </g>
 <g fill="#fff6e2" font-weight="bold" font-size="52" text-anchor="middle">
  <text x="434.5" y="565">3</text>
  <text x="551" y="737">1</text>
  <text x="749" y="843.5">2</text>
  <text x="893.5" y="508.5">4</text>
  <text x="894" y="580">5</text>
 </g>
</g>

</svg></div>
</body></html>
